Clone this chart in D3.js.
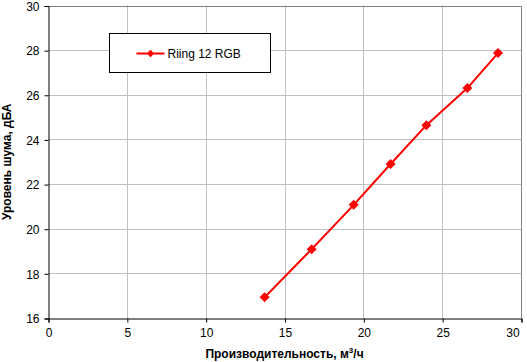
<!DOCTYPE html>
<html>
<head>
<meta charset="utf-8">
<script src="https://cdn.jsdelivr.net/npm/d3@7"></script>
<style>
  body { margin: 0; background: #fff; }
  text { font-family: Arial, "Liberation Sans", sans-serif; }
</style>
</head>
<body>
<script>
// data
const airflow = [13.74, 16.72, 19.39, 21.73, 24.0, 26.6, 28.54];
const noise = [16.93, 19.08, 21.07, 22.9, 24.64, 26.3, 27.87];
const seriesName = "Riing 12 RGB";
const xTicks = [0, 5, 10, 15, 20, 25, 30];
const yTicks = [16, 18, 20, 22, 24, 26, 28, 30];

const width = 527, height = 362;
const plotL = 48, plotR = 521, plotT = 5.5, plotB = 318;

const svg = d3.select("body").append("svg")
  .attr("width", width).attr("height", height);

const x = d3.scaleLinear().domain([0, 30]).range([plotL, plotR]);
const y = d3.scaleLinear().domain([16, 30]).range([plotB, plotT]);

// grid
svg.append("g").selectAll("line").data(yTicks.slice(1, -1)).join("line")
  .attr("x1", plotL).attr("x2", plotR)
  .attr("y1", d => Math.round(y(d)) + 0.5).attr("y2", d => Math.round(y(d)) + 0.5)
  .attr("stroke", "#c0c0c0");
svg.append("g").selectAll("line").data(xTicks.slice(1, -1)).join("line")
  .attr("y1", plotT).attr("y2", plotB)
  .attr("x1", d => Math.round(x(d)) + 0.5).attr("x2", d => Math.round(x(d)) + 0.5)
  .attr("stroke", "#c0c0c0");

// plot border (top / right)
svg.append("path")
  .attr("d", `M${plotL},${Math.round(plotT) + 0.5}H${Math.round(plotR) + 0.5}V${plotB}`)
  .attr("fill", "none").attr("stroke", "#808080");

// axes
const xAxis = svg.append("g")
  .attr("transform", `translate(0.5,${Math.round(plotB) + 0.5})`)
  .call(d3.axisBottom(x).tickValues(xTicks).tickSize(4).tickPadding(6));
const yAxis = svg.append("g")
  .attr("transform", `translate(${plotL + 0.5},0.5)`)
  .call(d3.axisLeft(y).tickValues(yTicks).tickSize(4).tickPadding(5));
[xAxis, yAxis].forEach(g => {
  g.select(".domain").attr("stroke", "#000");
  g.selectAll(".tick line").attr("stroke", "#000");
  g.selectAll(".tick text")
    .attr("fill", "#000")
    .style("font-family", "Arial, 'Liberation Sans', sans-serif")
    .style("font-size", "12px");
});
yAxis.selectAll(".tick text").attr("dy", "0.36em");
// last label is pulled inside the chart, like the original
xAxis.selectAll(".tick text").filter(d => d === 30).attr("x", -9);

// axis titles
const xt = svg.append("text")
  .attr("x", (plotL + plotR) / 2).attr("y", 358)
  .attr("text-anchor", "middle")
  .style("font-size", "12px").style("font-weight", "bold");
xt.append("tspan").text("Производительность, м");
xt.append("tspan").attr("dy", -5).style("font-size", "8px").text("3");
xt.append("tspan").attr("dy", 5).text("/ч");

svg.append("text")
  .attr("transform", `translate(11,${(plotT + plotB) / 2}) rotate(-90)`)
  .attr("text-anchor", "middle")
  .style("font-size", "12px").style("font-weight", "bold")
  .text("Уровень шума, дБА");

// series
const pts = airflow.map((d, i) => [d, noise[i]]);
svg.append("path")
  .datum(pts)
  .attr("d", d3.line().x(d => x(d[0])).y(d => y(d[1])))
  .attr("fill", "none").attr("stroke", "#ff0000").attr("stroke-width", 2);

const diamond = d3.symbol().type(d3.symbolSquare).size(50);
svg.append("g").selectAll("path").data(pts).join("path")
  .attr("d", diamond)
  .attr("transform", d => `translate(${x(d[0])},${y(d[1])}) rotate(45)`)
  .attr("fill", "#ff0000");

// legend
const lg = svg.append("g").attr("transform", "translate(109.5,33.5)");
lg.append("rect").attr("width", 161).attr("height", 39)
  .attr("fill", "#fff").attr("stroke", "#000");
lg.append("line").attr("x1", 27).attr("x2", 55).attr("y1", 20).attr("y2", 20)
  .attr("stroke", "#ff0000").attr("stroke-width", 2);
lg.append("path").attr("d", d3.symbol().type(d3.symbolSquare).size(28))
  .attr("transform", "translate(41,20) rotate(45)").attr("fill", "#ff0000");
lg.append("text").attr("x", 58).attr("y", 20).attr("dy", "0.36em")
  .style("font-size", "12px").text(seriesName);
</script>
</body>
</html>
